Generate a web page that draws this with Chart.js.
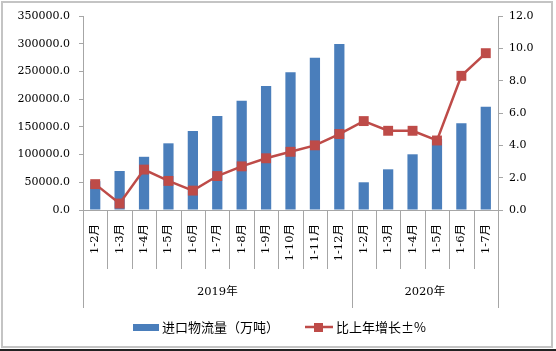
<!DOCTYPE html>
<html>
<head>
<meta charset="utf-8">
<script src="https://cdn.jsdelivr.net/npm/chart.js@4.4.0/dist/chart.umd.min.js"></script>
<style>
html, body { margin: 0; padding: 0; background: #fff; }
#contenedor { width: 556px; height: 351px; position: relative; }
</style>
</head>
<body>
<div id="contenedor"><canvas id="grafico"></canvas></div>
<script>
// Datos
const meses = ['1-2月', '1-3月', '1-4月', '1-5月', '1-6月', '1-7月', '1-8月', '1-9月', '1-10月', '1-11月', '1-12月',
               '1-2月', '1-3月', '1-4月', '1-5月', '1-6月', '1-7月'];
const anios = ['2019年', '2020年'];
const mesesPorAnio = [11, 6];
const flujo = [52000, 70400, 96000, 120300, 142500, 169600, 197200, 223700, 248400, 274800, 299500,
               50000, 73400, 100500, 128000, 156400, 186400];
const crecimiento = [1.6, 0.4, 2.5, 1.8, 1.2, 2.1, 2.7, 3.2, 3.6, 4.0, 4.7, 5.5, 4.9, 4.9, 4.3, 8.3, 9.7];
const etiquetasSerie = ['进口物流量（万吨）', '比上年增长±%'];

const AZUL = '#4a7ebb';
const ROJO = '#be4b48';
const GRIS = '#a6a6a6';
const fuenteNum = "'DejaVu Serif', 'Noto Sans CJK SC', serif";
const fuenteCjk = "'Noto Sans CJK SC', sans-serif";

// fondo y marco gris alrededor del grafico
const marco = {
    id: 'marco',
    beforeDraw(chart) {
        const ctx = chart.ctx;
        ctx.save();
        ctx.fillStyle = '#fff';
        ctx.fillRect(0, 0, chart.width, chart.height);
        ctx.strokeStyle = '#c4c4c4';
        ctx.lineWidth = 2;
        ctx.strokeRect(2, 2, 550, 345);
        ctx.fillStyle = '#222';
        ctx.fillRect(0, 349, chart.width, 2);
        ctx.restore();
    }
};

// separadores de categorias, etiquetas de anio y leyenda
const ejeAgrupado = {
    id: 'ejeAgrupado',
    afterDraw(chart) {
        const {ctx, chartArea} = chart;
        const x = chart.scales.x;
        const abajo = chartArea.bottom;
        const limite = (i) => {
            if (i === 0) return x.left;
            if (i === meses.length) return x.right;
            return (x.getPixelForValue(i - 1) + x.getPixelForValue(i)) / 2;
        };
        const cortes = [0];
        mesesPorAnio.forEach((n, k) => cortes.push(cortes[k] + n));

        ctx.save();
        ctx.strokeStyle = GRIS;
        ctx.lineWidth = 1;
        for (let i = 0; i <= meses.length; i++) {
            const px = Math.round(limite(i)) + 0.5;
            const largo = cortes.includes(i) ? 98 : 59;
            ctx.beginPath();
            ctx.moveTo(px, abajo);
            ctx.lineTo(px, abajo + largo);
            ctx.stroke();
        }
        ctx.fillStyle = '#000';
        ctx.font = '11.5px ' + fuenteNum;
        ctx.textAlign = 'center';
        ctx.textBaseline = 'middle';
        anios.forEach((a, k) => {
            const cx = (limite(cortes[k]) + limite(cortes[k + 1])) / 2;
            ctx.fillText(a, cx, abajo + 82);
        });

        // leyenda
        const yl = 327;
        ctx.fillStyle = AZUL;
        ctx.fillRect(133, yl - 3, 26, 7);
        ctx.strokeStyle = ROJO;
        ctx.lineWidth = 2.5;
        ctx.beginPath();
        ctx.moveTo(305, yl);
        ctx.lineTo(333, yl);
        ctx.stroke();
        ctx.fillStyle = ROJO;
        ctx.fillRect(314, yl - 4, 9, 9);
        ctx.fillStyle = '#000';
        ctx.font = '13px ' + fuenteCjk;
        ctx.textAlign = 'left';
        ctx.fillText(etiquetasSerie[0], 162, yl);
        ctx.fillText(etiquetasSerie[1], 336, yl);
        ctx.restore();
    }
};

const grafico = document.getElementById('grafico').getContext('2d');
const data = {
    labels: meses,
    datasets: [
        {
            type: 'bar',
            label: etiquetasSerie[0],
            data: flujo,
            yAxisID: 'y',
            backgroundColor: AZUL,
            borderWidth: 0,
            barPercentage: 0.42,
            categoryPercentage: 1,
            order: 1
        },
        {
            type: 'line',
            label: etiquetasSerie[1],
            data: crecimiento,
            yAxisID: 'y1',
            borderColor: ROJO,
            backgroundColor: ROJO,
            borderWidth: 2.5,
            pointStyle: 'rect',
            pointRadius: 7,
            pointBorderWidth: 0,
            tension: 0,
            order: 0
        }
    ]
};

new Chart(grafico, {
    data: data,
    options: {
        responsive: true,
        maintainAspectRatio: false,
        animation: false,
        events: [],
        layout: { padding: { top: 16, left: 0, right: 0, bottom: 41 } },
        plugins: {
            legend: { display: false },
            tooltip: { enabled: false }
        },
        scales: {
            x: {
                offset: true,
                grid: { display: true, drawOnChartArea: false, drawTicks: false },
                border: { color: GRIS, width: 1 },
                ticks: {
                    autoSkip: false,
                    minRotation: 90,
                    maxRotation: 90,
                    padding: 14,
                    color: '#000',
                    font: { family: fuenteNum, size: 11.5 }
                },
                afterFit: (s) => { s.height = 100; }
            },
            y: {
                position: 'left',
                min: 0,
                max: 350000,
                grid: { drawOnChartArea: false, drawTicks: true, tickLength: 4, color: GRIS },
                border: { color: GRIS, width: 1 },
                ticks: {
                    stepSize: 50000,
                    padding: 9,
                    color: '#000',
                    font: { family: fuenteNum, size: 11 },
                    callback: (v) => v.toFixed(1)
                },
                afterFit: (s) => { s.width = 83; }
            },
            y1: {
                position: 'right',
                min: 0,
                max: 12,
                grid: { drawOnChartArea: false, drawTicks: true, tickLength: 5, color: GRIS },
                border: { color: GRIS, width: 1 },
                ticks: {
                    stepSize: 2,
                    padding: 6,
                    color: '#000',
                    font: { family: fuenteNum, size: 11 },
                    callback: (v) => v.toFixed(1)
                },
                afterFit: (s) => { s.width = 58; }
            }
        }
    },
    plugins: [marco, ejeAgrupado]
});
</script>
</body>
</html>
